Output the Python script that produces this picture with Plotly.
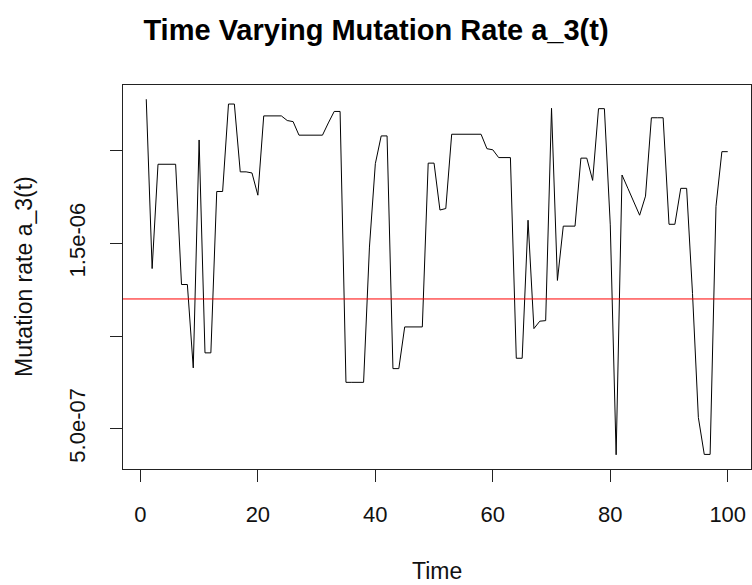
import plotly.graph_objects as go

# Time points and mutation rate a_3(t) (units of 1e-6)
time = list(range(1, 101))
rate_e6 = [
    2.278, 1.364, 1.927, 1.927, 1.927, 1.927, 1.278, 1.278, 0.828, 2.058,
    0.909, 0.909, 1.780, 1.780, 2.252, 2.252, 1.886, 1.886, 1.880, 1.760,
    2.188, 2.188, 2.188, 2.188, 2.163, 2.157, 2.084, 2.084, 2.084, 2.084,
    2.084, 2.150, 2.212, 2.212, 0.750, 0.750, 0.750, 0.750, 1.480, 1.930,
    2.080, 2.080, 0.824, 0.824, 1.049, 1.049, 1.049, 1.049, 1.933, 1.933,
    1.680, 1.688, 2.089, 2.089, 2.089, 2.089, 2.089, 2.089, 2.011, 2.005,
    1.963, 1.963, 1.963, 0.880, 0.880, 1.625, 1.040, 1.080, 1.083, 2.229,
    1.300, 1.593, 1.593, 1.593, 1.960, 1.960, 1.840, 2.227, 2.227, 1.600,
    0.359, 1.869, 1.797, 1.724, 1.652, 1.755, 2.178, 2.178, 2.178, 1.603,
    1.603, 1.797, 1.797, 1.230, 0.560, 0.361, 0.361, 1.700, 1.995, 1.995,
]
rate = [v * 1e-6 for v in rate_e6]
mean_rate = 1.2e-6

y_tickvals = [5e-7, 1e-6, 1.5e-6, 2e-6]
y_ticktext = ["5.0e-07", "", "1.5e-06", ""]
x_tickvals = [0, 20, 40, 60, 80, 100]

font = "Liberation Sans, Arial, sans-serif"

# R style 4% padding around the data
xpad = 0.04 * (max(time) - min(time))
ypad = 0.04 * (max(rate) - min(rate))

fig = go.Figure()
fig.add_trace(go.Scatter(x=time, y=rate, mode="lines",
                         line=dict(color="black", width=1), showlegend=False))
fig.add_hline(y=mean_rate, line=dict(color="#ff0000", width=1))

fig.update_xaxes(range=[min(time) - xpad, max(time) + xpad],
                 tickvals=x_tickvals, ticks="outside", ticklen=12, tickcolor="#222",
                 showline=True, mirror=True, linecolor="#222", linewidth=1,
                 showgrid=False, zeroline=False, ticklabelstandoff=14,
                 tickfont=dict(family=font, size=22, color="#111"))
fig.update_yaxes(range=[min(rate) - ypad, max(rate) + ypad],
                 tickvals=y_tickvals, ticktext=y_ticktext, tickangle=-90,
                 ticks="outside", ticklen=12, tickcolor="#222",
                 showline=True, mirror=True, linecolor="#222", linewidth=1,
                 showgrid=False, zeroline=False, ticklabelstandoff=16,
                 tickfont=dict(family=font, size=22, color="#111"))

fig.update_layout(
    width=752, height=585,
    margin=dict(l=123, r=1, t=85, b=116),
    paper_bgcolor="white", plot_bgcolor="white",
    title=dict(text="<b>Time Varying Mutation Rate a_3(t)</b>", x=0.5, xanchor="center",
               y=1 - 30 / 585, yanchor="middle",
               font=dict(family=font, size=29, color="black")),
    annotations=[
        dict(text="Time", xref="paper", yref="paper", x=0.5, y=-102 / 384,
             xanchor="center", yanchor="middle", showarrow=False,
             font=dict(family=font, size=23, color="#111")),
        dict(text="Mutation rate a_3(t)", xref="paper", yref="paper", x=-99 / 628, y=0.5,
             xanchor="center", yanchor="middle", textangle=-90, showarrow=False,
             font=dict(family=font, size=23, color="#111")),
    ],
)

# the page's default body margin would shift the figure by 8px
fig.write_html("out.html", config={"displayModeBar": False},
               post_script="document.body.style.margin='0';")
